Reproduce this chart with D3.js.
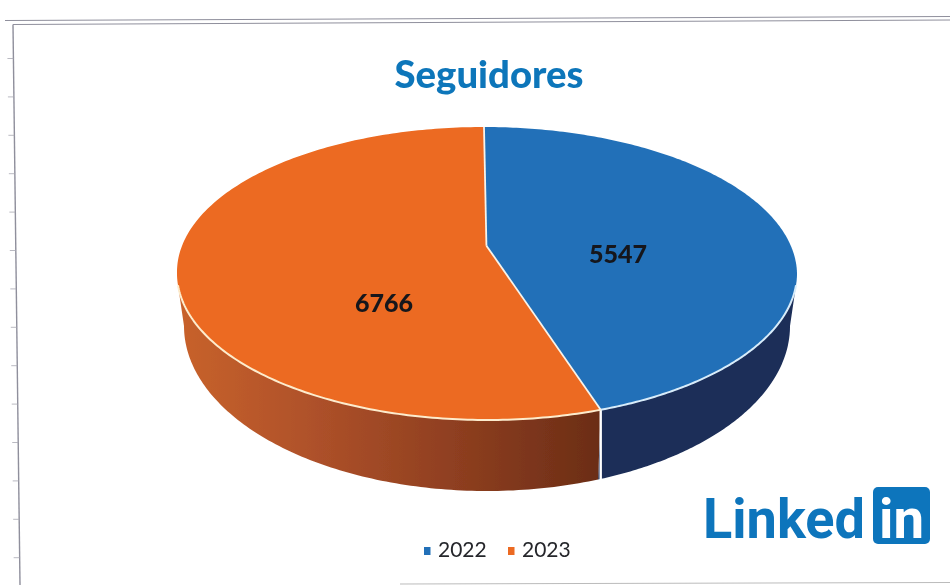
<!DOCTYPE html>
<html><head><meta charset="utf-8">
<script src="https://cdn.jsdelivr.net/npm/d3@7"></script>
<style>html,body{margin:0;padding:0;background:#fff;overflow:hidden}svg{display:block}</style>
</head><body><svg id="c" width="950" height="585"></svg>
<script>
const categories = ["2022", "2023"];
const values = [5547, 6766];
const colors = ["#2170b8", "#ec6a20"];
const titleText = "Seguidores";

const svg = d3.select("#c");
const defs = svg.append("defs");
defs.append("filter").attr("id","soft").append("feGaussianBlur").attr("stdDeviation",0.55);
const gradBlue = defs.append("linearGradient").attr("id","wallBlue").attr("x1",0).attr("x2",1).attr("y1",0).attr("y2",0);
[[0,"#1a2d58"],[1,"#1a2d58"]].forEach(([o,c])=>gradBlue.append("stop").attr("offset",o).attr("stop-color",c));
const gradOr = defs.append("linearGradient").attr("id","wallOrange").attr("x1",0).attr("x2",1).attr("y1",0).attr("y2",0);
[[0,"#c8622c"],[0.3,"#b0522a"],[0.65,"#8f3f20"],[1,"#6b2d16"]].forEach(([o,c])=>gradOr.append("stop").attr("offset",o).attr("stop-color",c));

const root = svg.append("g").attr("filter","url(#soft)");

// scanned page frame
const frame = root.append("g").attr("fill","none").attr("stroke","#8f8f9c");
frame.append("line").attr("x1",5).attr("y1",20.5).attr("x2",950).attr("y2",16.5).attr("stroke-width",1);
frame.append("line").attr("x1",13).attr("y1",24.5).attr("x2",950).attr("y2",20).attr("stroke-width",1);
frame.append("line").attr("x1",13).attr("y1",24.5).attr("x2",20).attr("y2",585).attr("stroke-width",1.4);
frame.append("line").attr("x1",400).attr("y1",584).attr("x2",950).attr("y2",582.5).attr("stroke","#bbb");
d3.range(0,14).forEach(i=>{
  const y = 58.5 + i*38.4, x = 13 + (y-24)*7/561;
  frame.append("line").attr("x1",x-6).attr("x2",x).attr("y1",y).attr("y2",y).attr("stroke-width",0.8).attr("stroke","#a8a8b2");
});

// pie geometry: unit-circle angles from d3.pie, perspective-projected on the ellipse
const pie = d3.pie().value(d=>d).sort(null);
const arcs = pie(values);
const topX = d3.scaleLinear().domain([-1,1]).range([177,797]);
const topY = d3.scaleLinear().domain([-1,1]).range([420,127]);
const botX = d3.scaleLinear().domain([-1,1]).range([184,790]);
const botY = d3.scaleLinear().domain([-1,1]).range([491,161]);
const tilt = 0.19, lean = 3;
function project(a){
  const u=Math.sin(a), v=Math.cos(a), w=1+tilt*v;
  return [u*Math.sqrt(1-tilt*tilt)/w,(v+tilt)/w];
}
function samples(a0,a1,n=120){ return d3.range(n+1).map(i=>a0+(a1-a0)*i/n); }
const line = d3.line();
const onTop = p=>[topX(p[0])-lean*Math.max(p[1],0),topY(p[1])];
const onBot = p=>[botX(p[0]),botY(p[1])];

function angleAtY(Y){ return Math.acos((Y-tilt)/(1-tilt*Y)); }
const rimEdge = angleAtY(-0.08), botEdge = angleAtY(0);
const split = arcs[0].endAngle;
const TAU = 2*Math.PI;

// walls
const wallBlue = samples(rimEdge,split).map(a=>onTop(project(a)))
  .concat(samples(split,botEdge).map(a=>onBot(project(a))));
root.append("path").attr("d",line(wallBlue)+"Z").attr("fill","url(#wallBlue)");
const wallOr = samples(split,TAU-rimEdge).map(a=>onTop(project(a)))
  .concat(samples(TAU-botEdge,split).map(a=>onBot(project(a))));
root.append("path").attr("d",line(wallOr)+"Z").attr("fill","url(#wallOrange)");

// split edge on the wall
const sTop=onTop(project(split)), sBot=onBot(project(split));
root.append("line").attr("x1",sTop[0]).attr("y1",sTop[1]).attr("x2",sTop[0]).attr("y2",sBot[1])
  .attr("stroke","#ffffff").attr("stroke-width",2.4);

// top slices
const centre = [topX(0)-lean*tilt, topY(tilt)];
arcs.forEach((d,i)=>{
  const pts=[centre].concat(samples(d.startAngle,d.endAngle,200).map(a=>onTop(project(a))));
  root.append("path").attr("d",line(pts)+"Z").attr("fill",colors[i]);
});
// light lower rim only
const rimStroke=["#d8ecfa","#fdeccd"];
root.append("path").attr("d",line(samples(rimEdge,split).map(a=>onTop(project(a))))).attr("fill","none").attr("stroke",rimStroke[0]).attr("stroke-width",2);
root.append("path").attr("d",line(samples(split,TAU-rimEdge).map(a=>onTop(project(a))))).attr("fill","none").attr("stroke",rimStroke[1]).attr("stroke-width",2);
// spokes
[0,split].forEach(a=>{
  const p=onTop(project(a));
  root.append("line").attr("x1",centre[0]).attr("y1",centre[1]).attr("x2",p[0]).attr("y2",p[1])
    .attr("stroke","#f8f3ea").attr("stroke-width",1.8);
});

// labels
const font="Lato, Carlito, 'Open Sans', sans-serif";
const labelPos=[[618,253],[384,302]];
arcs.forEach((d,i)=>root.append("text").attr("x",labelPos[i][0]).attr("y",labelPos[i][1])
  .attr("text-anchor","middle").attr("dominant-baseline","central").attr("font-family",font)
  .attr("font-weight",900).attr("font-size",25).attr("fill","#15171c").text(d.data));

root.append("text").attr("x",489).attr("y",88).attr("text-anchor","middle").attr("font-family",font)
  .attr("font-weight",900).attr("font-size",38).attr("textLength",189).attr("lengthAdjust","spacingAndGlyphs").attr("fill","#0d76ba").text(titleText);

// legend
const legendX=[424,508];
categories.forEach((c,i)=>{
  root.append("rect").attr("x",legendX[i]).attr("y",547).attr("width",6.5).attr("height",8).attr("fill",colors[i]);
  root.append("text").attr("x",legendX[i]+14).attr("y",557).attr("font-family",font).attr("font-size",21)
    .attr("fill","#25262b").text(c);
});

// LinkedIn logo
root.append("text").attr("x",703).attr("y",538).attr("font-family","Roboto, sans-serif").attr("font-weight",700)
  .attr("font-size",55).attr("textLength",162).attr("lengthAdjust","spacingAndGlyphs").attr("fill","#0f75bc").text("Linked");
root.append("rect").attr("x",873).attr("y",487).attr("width",57).attr("height",57).attr("rx",5).attr("fill","#0f75bc");
root.append("text").attr("x",879).attr("y",538).attr("font-family","Roboto, sans-serif").attr("font-weight",700)
  .attr("font-size",55).attr("textLength",45).attr("lengthAdjust","spacingAndGlyphs").attr("fill","#fff").text("in");
</script></body></html>
